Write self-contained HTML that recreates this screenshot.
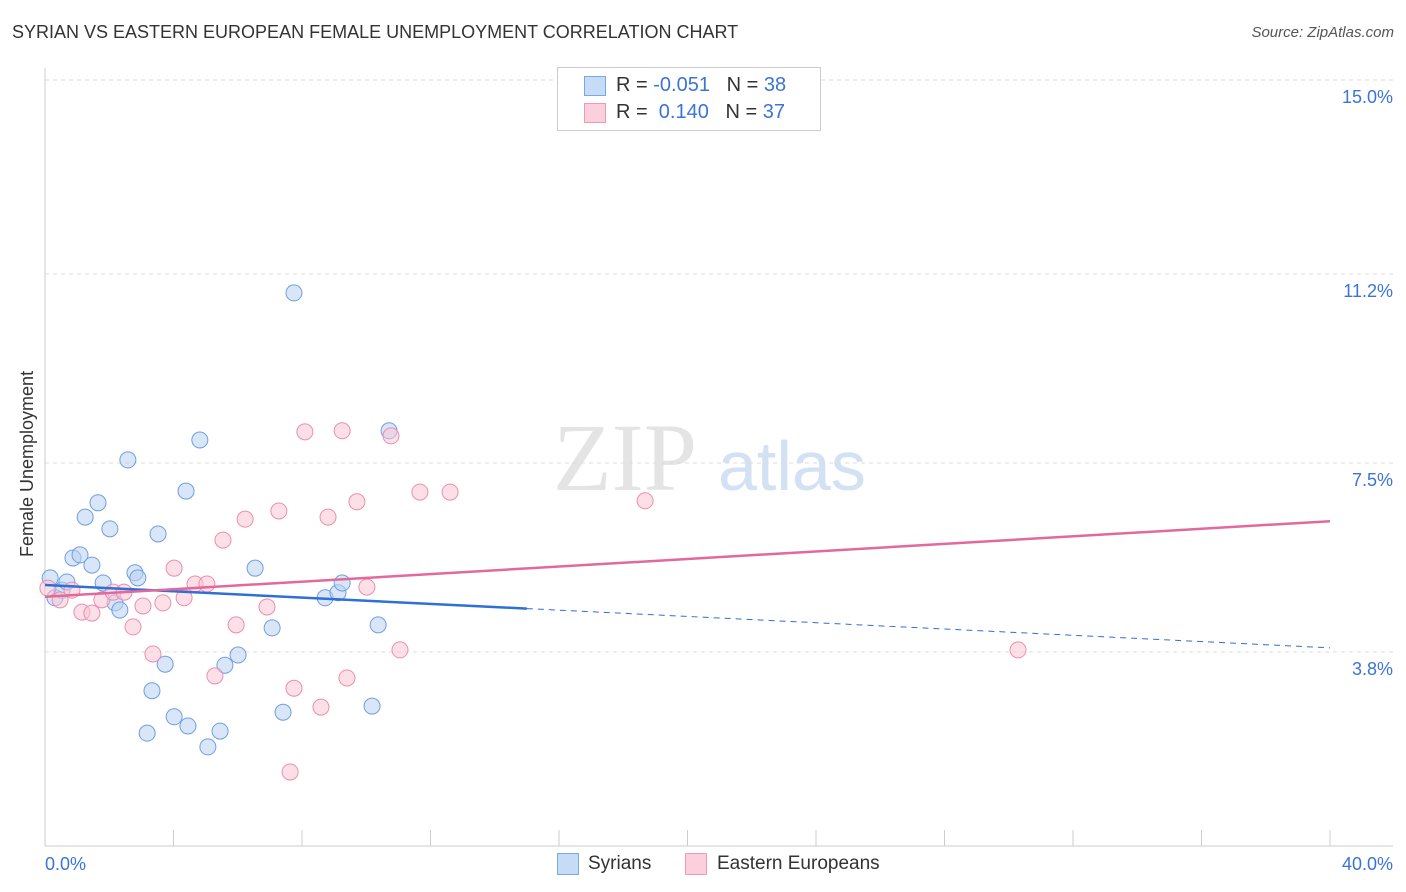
<!DOCTYPE html>
<html><head><meta charset="utf-8"><style>
body{margin:0;background:#fff;font-family:"Liberation Sans",sans-serif;}
#wrap{position:relative;width:1406px;height:892px;overflow:hidden;}
.t{position:absolute;white-space:nowrap;}
</style></head><body>
<div id="wrap">
<div class="t" style="left:12px;top:22px;font-size:18px;color:#333;">SYRIAN VS EASTERN EUROPEAN FEMALE UNEMPLOYMENT CORRELATION CHART</div>
<div class="t" style="right:12px;top:24px;font-size:15px;color:#555;font-style:italic;">Source: ZipAtlas.com</div>
<svg id="svg" width="1406" height="892" style="position:absolute;left:0;top:0"></svg>
<div class="t" style="left:8px;top:455px;font-size:18px;color:#333;transform:rotate(-90deg);transform-origin:0 0;top:557px;left:17px;">Female Unemployment</div>
<div style="position:absolute;left:557px;top:67px;width:262px;height:62px;border:1px solid #ccc;background:#fff;">
 <div style="position:absolute;left:26px;top:8px;width:20px;height:18px;background:#c6dbf5;border:1px solid #7aa7e0;"></div>
 <div class="t" style="left:58px;top:6px;font-size:20px;color:#333;">R = <span style="color:#3b74d6">-0.051</span>&nbsp;&nbsp;&nbsp;N = <span style="color:#3b74d6">38</span></div>
 <div style="position:absolute;left:26px;top:35px;width:20px;height:18px;background:#fbd0dc;border:1px solid #ef9ab5;"></div>
 <div class="t" style="left:58px;top:33px;font-size:20px;color:#333;">R = &nbsp;<span style="color:#3b74d6">0.140</span>&nbsp;&nbsp;&nbsp;N = <span style="color:#3b74d6">37</span></div>
</div>
<div style="position:absolute;left:557px;top:853px;width:20px;height:20px;background:#c6dbf5;border:1px solid #7aa7e0;"></div>
<div class="t" style="left:588px;top:853px;font-size:19px;color:#333;">Syrians</div>
<div style="position:absolute;left:685px;top:853px;width:20px;height:20px;background:#fbd0dc;border:1px solid #ef9ab5;"></div>
<div class="t" style="left:717px;top:853px;font-size:19px;color:#333;">Eastern Europeans</div>
</div>
<script>
const xTicks=[0,40];
const yTicks=[3.8,7.5,11.2,15.0];
const yTickLabels=["3.8%","7.5%","11.2%","15.0%"];
const syrX=[0.16,0.31,0.53,0.68,0.87,1.09,1.25,1.46,1.65,1.81,2.02,2.18,2.33,2.58,2.80,2.89,3.33,3.18,3.52,3.74,4.02,4.39,4.45,4.82,5.07,5.45,5.60,6.01,6.54,7.07,7.41,7.75,8.72,9.12,9.25,10.18,10.37,10.71];
const syrY=[5.25,4.86,5.01,5.17,5.64,5.70,6.44,5.50,6.72,5.15,6.21,4.76,4.62,7.56,5.35,5.25,3.04,2.21,6.11,3.56,2.53,6.95,2.35,7.95,1.94,2.25,3.54,3.74,5.44,4.27,2.62,10.83,4.86,4.96,5.15,2.74,4.33,8.13];
const eeX=[0.09,0.47,0.84,1.15,1.46,1.77,2.12,2.46,2.74,3.05,3.36,3.67,4.02,4.33,4.67,5.04,5.29,5.54,5.95,6.23,6.91,7.28,7.63,7.75,8.09,8.59,8.81,9.25,9.40,9.71,10.02,10.77,11.05,11.67,12.61,18.68,30.29];
const eeY=[5.05,4.82,5.01,4.58,4.56,4.82,4.97,4.97,4.29,4.70,3.76,4.76,5.44,4.86,5.13,5.13,3.33,5.99,4.33,6.40,4.68,6.56,1.45,3.09,8.11,2.72,6.44,8.13,3.29,6.74,5.07,8.03,3.84,6.93,6.93,6.76,3.84];
const syrTrend=[5.11,3.88]; // value at x=0 and x=40
const eeTrend=[4.88,6.36];
const syrSolidEnd=15;
const X=v=>45+v*32.125, Y=v=>846-v*51.07;
const svg=document.getElementById('svg'),NS='http://www.w3.org/2000/svg';
function mk(t,a,p){const e=document.createElementNS(NS,t);for(const k in a)e.setAttribute(k,a[k]);(p||svg).appendChild(e);return e;}
// watermark
let w=mk('text',{x:553,y:490,'font-size':96,fill:'#e4e4e4','font-family':'Liberation Serif,serif'});w.textContent='ZIP';


let w2=mk('text',{x:718,y:490,'font-size':70,fill:'#d3e1f4','font-family':'Liberation Sans,sans-serif'});w2.textContent='atlas';


yTicks.forEach((v,i)=>{
 const g=mk('line',{x1:45,x2:1393,y1:Y(v),y2:Y(v),stroke:'#ddd','stroke-dasharray':'4,4'});
 
 
 const t=mk('text',{x:1393,y:Y(v)+23,'text-anchor':'end','font-size':18,fill:'#3b74d6','font-family':'Liberation Sans,sans-serif'});t.textContent=yTickLabels[i];
 
 
});
mk('line',{x1:45,x2:45,y1:68,y2:846,stroke:'#ccc'});
mk('line',{x1:45,x2:1393,y1:846,y2:846,stroke:'#ccc'});
for(let i=1;i<=10;i++){const x=X(i*4);const l=mk('line',{x1:x,x2:x,y1:830,y2:846,stroke:'#ccc'});
 
 }
xTicks.forEach((v,i)=>{const t=mk('text',{x:i?1393:45,y:870,'text-anchor':i?'end':'start','font-size':18,fill:'#3b74d6','font-family':'Liberation Sans,sans-serif'});t.textContent=v.toFixed(1)+'%';
 
 });
function dots(xs,ys,fill,stroke,name){xs.forEach((x,i)=>{const c=mk('circle',{cx:X(x),cy:Y(ys[i]),r:8,fill:fill,stroke:stroke,'stroke-width':1,'fill-opacity':0.55});
 
 });}
dots(syrX,syrY,'#b9d2f3','#6f9fe0','syrian-point');
dots(eeX,eeY,'#f9c5d4','#ea8fae','eastern-european-point');
const sv=x=>syrTrend[0]+(syrTrend[1]-syrTrend[0])*x/40;
let l1=mk('line',{x1:X(0),y1:Y(sv(0)),x2:X(syrSolidEnd),y2:Y(sv(syrSolidEnd)),stroke:'#2f6fd6','stroke-width':2.5});


let l2=mk('line',{x1:X(syrSolidEnd),y1:Y(sv(syrSolidEnd)),x2:X(40),y2:Y(sv(40)),stroke:'#2f6fd6','stroke-width':1,'stroke-dasharray':'6,5'});


let l3=mk('line',{x1:X(0),y1:Y(eeTrend[0]),x2:X(40),y2:Y(eeTrend[1]),stroke:'#e2699a','stroke-width':2.5});


</script>
</body></html>
